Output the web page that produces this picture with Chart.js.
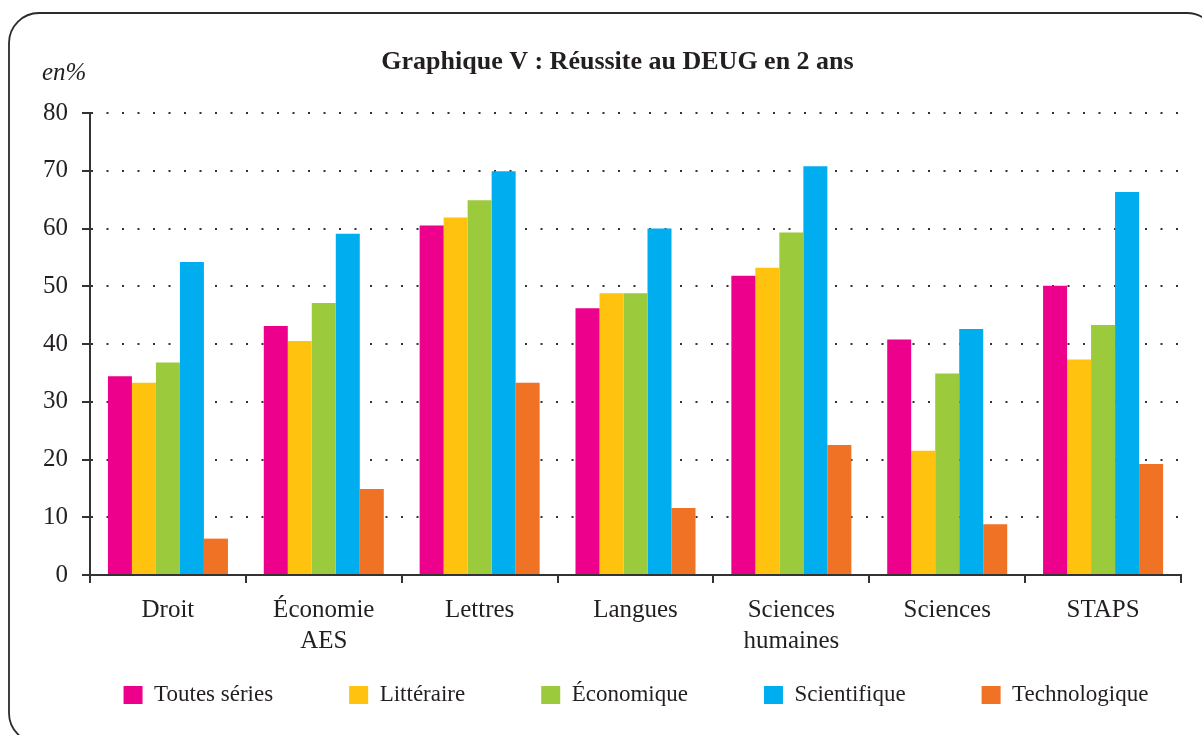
<!DOCTYPE html>
<html>
<head>
<meta charset="utf-8">
<script src="https://cdn.jsdelivr.net/npm/chart.js@4"></script>
<style>
  body { margin: 0; background: #fff; }
  canvas { display: block; }
</style>
</head>
<body>
<canvas id="myChart" width="1202" height="735"></canvas>
<script>
// categories and values
let categories = ['Droit', ['Économie', 'AES'], 'Lettres', 'Langues', ['Sciences', 'humaines'], 'Sciences', 'STAPS'];
let seriesNames = ['Toutes séries', 'Littéraire', 'Économique', 'Scientifique', 'Technologique'];
let toutes = [34.4, 43.1, 60.5, 46.2, 51.8, 40.8, 50.1];
let litteraire = [33.3, 40.5, 61.9, 48.8, 53.2, 21.5, 37.3];
let economique = [36.8, 47.1, 64.9, 48.8, 59.3, 34.9, 43.3];
let scientifique = [54.2, 59.1, 69.9, 60.0, 70.8, 42.6, 66.3];
let technologique = [6.3, 14.9, 33.3, 11.6, 22.5, 8.8, 19.2];
let yTicks = [0, 10, 20, 30, 40, 50, 60, 70, 80];

let colors = ['#ec008c', '#ffc20e', '#9bca3c', '#00aeef', '#ef7225'];
let values = [toutes, litteraire, economique, scientifique, technologique];

const serif = '"Liberation Serif", "Times New Roman", serif';
const ink = '#231f20';

// rounded frame, "en%" label, and a few position nudges after layout
const decor = {
  id: 'decor',
  afterLayout(chart) {
    // let the two-line category labels draw below the axis box
    chart.scales.x.bottom = 690;
    // title centred a bit right of the canvas middle, legend on the plot area
    chart.titleBlock.left = 54;
    chart.legend.left += 45.5;
    chart.legend.right += 45.5;
  },
  beforeDraw(chart) {
    const c = chart.ctx;
    c.save();
    c.fillStyle = '#fff';
    c.fillRect(0, 0, chart.width, chart.height);
    c.strokeStyle = '#2b2b2b';
    c.lineWidth = 1.8;
    c.beginPath();
    c.roundRect(9, 13, 1208, 730, 30);
    c.stroke();
    c.restore();
  },
  afterDraw(chart) {
    const c = chart.ctx;
    c.save();
    c.fillStyle = ink;
    c.font = 'italic 25px ' + serif;
    c.textBaseline = 'middle';
    c.fillText('en%', 42, 73);
    c.restore();
  }
};

const ctx = document.getElementById('myChart');

new Chart(ctx, {
  type: 'bar',
  data: {
    labels: categories,
    datasets: seriesNames.map((name, i) => ({
      label: name,
      data: values[i],
      backgroundColor: colors[i],
      borderWidth: 0,
      categoryPercentage: 0.77,
      barPercentage: 1
    }))
  },
  options: {
    responsive: false,
    animation: false,
    layout: { padding: { left: 0, right: 21, top: 0, bottom: 18.5 } },
    plugins: {
      title: {
        display: true,
        text: 'Graphique V : Réussite au DEUG en 2 ans',
        color: ink,
        font: { family: serif, size: 26, weight: 'bold', lineHeight: 1.2 },
        padding: { top: 46.4, bottom: 35.4 }
      },
      legend: {
        position: 'bottom',
        labels: {
          color: ink,
          font: { family: serif, size: 23 },
          boxWidth: 19,
          boxHeight: 18,
          padding: 76
        }
      },
      tooltip: { enabled: false }
    },
    scales: {
      x: {
        grid: {
          display: true,
          drawOnChartArea: false,
          drawTicks: true,
          tickLength: 8,
          color: '#333',
          lineWidth: 2
        },
        border: { color: '#333', width: 2 },
        ticks: {
          color: ink,
          font: { family: serif, size: 25, lineHeight: 1.25 },
          padding: 11.4,
          maxRotation: 0,
          autoSkip: false
        },
        afterFit(scale) { scale.height = 32.5; }
      },
      y: {
        min: 0,
        max: 80,
        afterBuildTicks(scale) { scale.ticks = yTicks.map(v => ({ value: v })); },
        grid: {
          color: '#333',
          lineWidth: 2,
          tickLength: 8,
          tickColor: '#333',
          tickWidth: 2,
          tickBorderDash: []
        },
        border: { color: '#333', width: 2, dash: [2, 13.5] },
        ticks: {
          color: ink,
          font: { family: serif, size: 25 },
          padding: 14
        },
        afterFit(scale) { scale.width = 90; }
      }
    }
  },
  plugins: [decor]
});
</script>
</body>
</html>
